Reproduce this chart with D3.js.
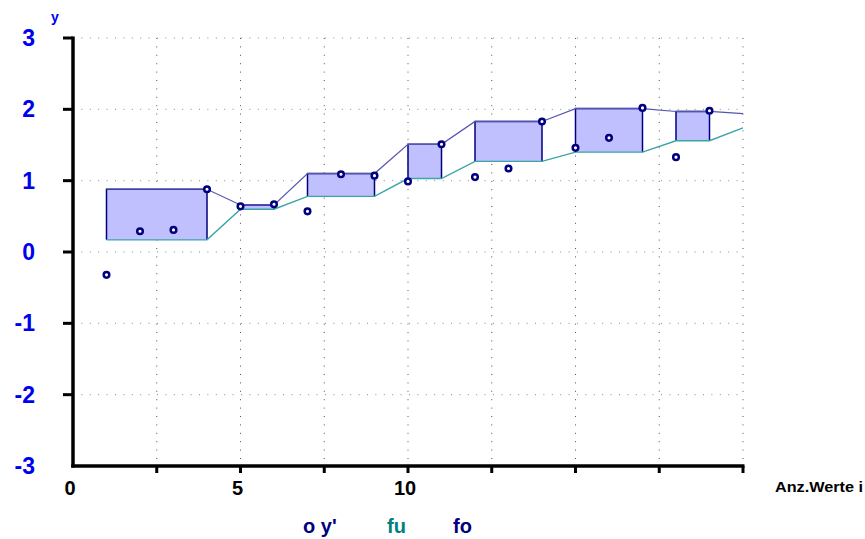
<!DOCTYPE html>
<html>
<head>
<meta charset="utf-8">
<script src="https://cdn.jsdelivr.net/npm/d3@7"></script>
<style>
  body { margin: 0; background: #fff; }
  svg { display: block; font-family: "Liberation Sans", Arial, sans-serif; font-weight: bold; }
</style>
</head>
<body>
<div id="chart"></div>
<script>
// measured values, x = index of value
const xValues = d3.range(1, 20);
const yPrime = [-0.32, 0.29, 0.31, 0.88, 0.64, 0.67, 0.57, 1.09, 1.07, 0.99, 1.51, 1.05, 1.17, 1.83, 1.46, 1.60, 2.02, 1.33, 1.98];

// groups: from/to index, lower bound fu, upper bound fo
const groupStart = [1, 5, 7, 10, 12, 15, 18];
const groupEnd = [4, 6, 9, 11, 14, 17, 19];
const fu = [0.17, 0.60, 0.78, 1.03, 1.27, 1.40, 1.56];
const fo = [0.88, 0.66, 1.10, 1.51, 1.83, 2.01, 1.97];
const lastX = 20, lastFu = 1.74, lastFo = 1.94;

const xTicks = d3.range(0, 20.1, 2.5);
const xLabels = [0, 5, 10];
const yTicks = [-3, -2, -1, 0, 1, 2, 3];

const width = 865, height = 539;
const margin = { top: 38, right: 122, bottom: 73, left: 73 };

const svg = d3.select("#chart").append("svg")
  .attr("width", width)
  .attr("height", height);

const x = d3.scaleLinear().domain([0, 20]).range([margin.left, width - margin.right]);
const y = d3.scaleLinear().domain([-3, 3]).range([height - margin.bottom, margin.top]);

// dotted grid
svg.append("g").selectAll("line").data(xTicks.filter(d => d > 0)).join("line")
  .attr("x1", d => x(d)).attr("x2", d => x(d))
  .attr("y1", y(3)).attr("y2", y(-3))
  .attr("stroke", "#555").attr("stroke-width", 1)
  .attr("stroke-dasharray", "1,7.4");
svg.append("g").selectAll("line").data(yTicks.filter(d => d > -3)).join("line")
  .attr("x1", x(0)).attr("x2", x(20))
  .attr("y1", d => y(d)).attr("y2", d => y(d))
  .attr("stroke", "#888").attr("stroke-width", 1)
  .attr("stroke-dasharray", "1,7.4");

// bound lines (horizontal over each group, diagonal between groups)
const foPts = [], fuPts = [];
groupStart.forEach((s, i) => {
  foPts.push([s, fo[i]], [groupEnd[i], fo[i]]);
  fuPts.push([s, fu[i]], [groupEnd[i], fu[i]]);
});
foPts.push([lastX, lastFo]);
fuPts.push([lastX, lastFu]);

const line = d3.line().x(d => x(d[0])).y(d => y(d[1]));

// boxes
const boxes = svg.append("g").selectAll("g").data(groupStart).join("g");
boxes.append("rect")
  .attr("x", (d, i) => x(d))
  .attr("y", (d, i) => y(fo[i]))
  .attr("width", (d, i) => x(groupEnd[i]) - x(d))
  .attr("height", (d, i) => y(fu[i]) - y(fo[i]))
  .attr("fill", "#c0c0ff");
boxes.append("path")
  .attr("d", (d, i) => `M${x(d)},${y(fu[i])}V${y(fo[i])}H${x(groupEnd[i])}V${y(fu[i])}`)
  .attr("fill", "none").attr("stroke", "#000080").attr("stroke-width", 1.5);

svg.append("path").datum(fuPts).attr("d", line)
  .attr("fill", "none").attr("stroke", "#3aa5a5").attr("stroke-width", 1.4);
svg.append("path").datum(foPts).attr("d", line)
  .attr("fill", "none").attr("stroke", "#5555b0").attr("stroke-width", 1.2);

// points
svg.append("g").selectAll("circle").data(xValues).join("circle")
  .attr("cx", d => x(d))
  .attr("cy", (d, i) => y(yPrime[i]))
  .attr("r", 2.8)
  .attr("fill", "#fff")
  .attr("stroke", "#000080").attr("stroke-width", 2.5);

// axes
const yAxis = svg.append("g").attr("transform", `translate(${x(0)},0)`);
yAxis.append("line").attr("y1", y(3) - 1.5).attr("y2", y(-3) + 1.5)
  .attr("stroke", "#000").attr("stroke-width", 3.5);
yAxis.selectAll(".tick").data(yTicks.filter(d => d > -3)).join("line")
  .attr("x1", -10).attr("x2", 0)
  .attr("y1", d => y(d)).attr("y2", d => y(d))
  .attr("stroke", "#000").attr("stroke-width", 3);
svg.append("g").selectAll("text").data(yTicks).join("text")
  .attr("x", 35).attr("y", d => y(d) + 8)
  .attr("text-anchor", "end")
  .attr("fill", "#0000ee").style("font-size", "23px")
  .text(d => d);

const xAxis = svg.append("g").attr("transform", `translate(0,${y(-3)})`);
xAxis.append("line").attr("x1", x(0) - 1.75).attr("x2", x(20) + 1.5)
  .attr("stroke", "#000").attr("stroke-width", 3.5);
xAxis.selectAll(".tick").data(xTicks.filter(d => d > 0)).join("line")
  .attr("x1", d => x(d)).attr("x2", d => x(d))
  .attr("y1", 0).attr("y2", 7)
  .attr("stroke", "#000").attr("stroke-width", 3);
svg.append("g").selectAll("text").data(xLabels).join("text")
  .attr("x", d => x(d) - 3).attr("y", y(-3) + 29)
  .attr("text-anchor", "middle")
  .attr("fill", "#000").style("font-size", "20px")
  .text(d => d);

// axis titles
svg.append("text").attr("x", 51).attr("y", 22)
  .attr("fill", "#0000ee").style("font-size", "14px").text("y");
svg.append("text").attr("x", 775).attr("y", 492)
  .attr("fill", "#000").style("font-size", "14px")
  .attr("textLength", 88).attr("lengthAdjust", "spacingAndGlyphs")
  .text("Anz.Werte i");

// legend
const legend = [
  { label: "o y'", color: "#000080", x: 303 },
  { label: "fu", color: "#008080", x: 387 },
  { label: "fo", color: "#000080", x: 453 }
];
svg.append("g").selectAll("text").data(legend).join("text")
  .attr("x", d => d.x).attr("y", 533)
  .attr("fill", d => d.color).style("font-size", "20px")
  .text(d => d.label);
</script>
</body>
</html>
